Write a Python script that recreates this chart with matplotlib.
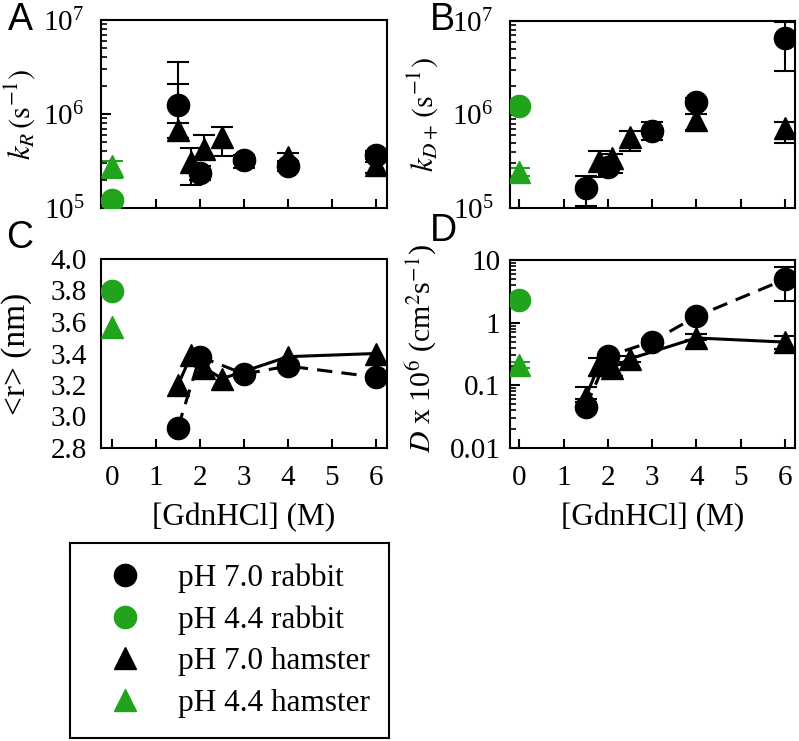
import numpy as np
import matplotlib
matplotlib.use('Agg')
import matplotlib.pyplot as plt
from matplotlib.lines import Line2D
from matplotlib.ticker import LogLocator, LogFormatterMathtext, NullFormatter, FixedLocator, FixedFormatter

plt.rcParams['font.family'] = ['Liberation Serif', 'DejaVu Serif']
plt.rcParams['mathtext.fontset'] = 'stix'

GREEN = '#22a31c'

# x positions ([GdnHCl], M)
rab7_x = [1.5, 2, 3, 4, 6]
ham7_x = [1.5, 1.8, 2.1, 2.5, 4, 6]
ham7_x_B = [1.8, 2.1, 2.5, 4, 6]
low_x = [0]

# A: k_R (s^-1)
rab7_kR = [1.25e6, 2.35e5, 3.24e5, 2.77e5, 3.66e5]
rab7_kR_lo = [8.0e5, 2.0e5, 2.66e5, 2.5e5, 3.3e5]
rab7_kR_hi = [3.6e6, 2.8e5, 3.66e5, 3.0e5, 4.0e5]
ham7_kR = [6.8e5, 3.1e5, 4.25e5, 5.7e5, 3.5e5, 2.87e5]
ham7_kR_lo = [5.5e5, 1.76e5, 3.5e5, 3.6e5, 3.2e5, 2.36e5]
ham7_kR_hi = [2.1e6, 4.35e5, 6.0e5, 7.2e5, 3.85e5, 3.1e5]
rab44_kR = [1.22e5]
ham44_kR = [2.8e5]
ham44_kR_lo = [2.08e5]
ham44_kR_hi = [3.16e5]

# B: k_D+ (s^-1)
rab7_kD = [1.64e5, 2.77e5, 6.65e5, 1.37e6, 6.6e6]
rab7_kD_lo = [1.05e5, 2.5e5, 5.33e5, 1.25e6, 2.95e6]
rab7_kD_hi = [2.2e5, 3.0e5, 8.3e5, 1.5e6, 9.8e6]
ham7_kD = [3.2e5, 3.43e5, 5.74e5, 8.7e5, 7.2e5]
ham7_kD_lo = [2.16e5, 2.37e5, 4.07e5, 6.8e5, 4.95e5]
ham7_kD_hi = [4.1e5, 3.8e5, 6.65e5, 1.01e6, 8.4e5]
rab44_kD = [1.23e6]
ham44_kD = [2.43e5]
ham44_kD_lo = [2.2e5]
ham44_kD_hi = [2.68e5]

# C: <r> (nm)
rab7_r = [2.93, 3.38, 3.27, 3.32, 3.25]
ham7_r = [3.20, 3.39, 3.31, 3.24, 3.38, 3.40]
rab44_r = [3.80]
ham44_r = [3.57]

# D: D x 10^6 (cm^2 s^-1)
rab7_D = [0.045, 0.29, 0.50, 1.26, 4.9]
rab7_D_lo = [0.040, 0.26, 0.46, 1.15, 2.25]
rab7_D_hi = [0.060, 0.32, 0.55, 1.40, 7.7]
ham7_D = [0.065, 0.21, 0.19, 0.265, 0.57, 0.49]
ham7_D_lo = [0.055, 0.14, 0.14, 0.24, 0.52, 0.38]
ham7_D_hi = [0.094, 0.27, 0.21, 0.29, 0.65, 0.62]
rab44_D = [2.28]
ham44_D = [0.21]
ham44_D_lo = [0.19]
ham44_D_hi = [0.24]

labels = ['pH 7.0 rabbit', 'pH 4.4 rabbit', 'pH 7.0 hamster', 'pH 4.4 hamster']

W, H = 799, 741
fig = plt.figure(figsize=(W / 100, H / 100), dpi=100)


def box(l, t, r, b):
    return [l / W, 1 - b / H, (r - l) / W, (b - t) / H]


axA = fig.add_axes(box(101, 20, 387, 208))
axB = fig.add_axes(box(510, 21, 795, 208))
axC = fig.add_axes(box(101, 259, 387, 448))
axD = fig.add_axes(box(510, 260, 795, 448))


def series(ax, x, y, lo=None, hi=None, marker='o', color='k', ls='none'):
    if lo is not None:
        y_ = np.asarray(y)
        err = [y_ - np.asarray(lo), np.asarray(hi) - y_]
        ax.errorbar(x, y, yerr=err, fmt='none', ecolor=color, elinewidth=1.5,
                    capsize=8, capthick=1.5, zorder=2)
    line, = ax.plot(x, y, marker=marker, color=color, ms=16, ls=ls, lw=2.2, zorder=3)
    if ls == '--':
        line.set_dashes((5, 3))


# A
series(axA, rab7_x, rab7_kR, rab7_kR_lo, rab7_kR_hi, 'o', 'k')
series(axA, ham7_x, ham7_kR, ham7_kR_lo, ham7_kR_hi, '^', 'k')
series(axA, low_x, rab44_kR, marker='o', color=GREEN)
series(axA, low_x, ham44_kR, ham44_kR_lo, ham44_kR_hi, '^', GREEN)

# B
series(axB, rab7_x, rab7_kD, rab7_kD_lo, rab7_kD_hi, 'o', 'k')
series(axB, ham7_x_B, ham7_kD, ham7_kD_lo, ham7_kD_hi, '^', 'k')
series(axB, low_x, rab44_kD, marker='o', color=GREEN)
series(axB, low_x, ham44_kD, ham44_kD_lo, ham44_kD_hi, '^', GREEN)

# C
series(axC, rab7_x, rab7_r, marker='o', color='k', ls='--')
series(axC, ham7_x, ham7_r, marker='^', color='k', ls='-')
series(axC, low_x, rab44_r, marker='o', color=GREEN)
series(axC, low_x, ham44_r, marker='^', color=GREEN)

# D
series(axD, rab7_x, rab7_D, rab7_D_lo, rab7_D_hi, 'o', 'k', ls='--')
series(axD, ham7_x, ham7_D, ham7_D_lo, ham7_D_hi, '^', 'k', ls='-')
series(axD, low_x, rab44_D, marker='o', color=GREEN)
series(axD, low_x, ham44_D, ham44_D_lo, ham44_D_hi, '^', GREEN)

for ax in (axA, axB, axC, axD):
    for s in ax.spines.values():
        s.set_linewidth(1.5)
    ax.xaxis.set_major_locator(FixedLocator(range(7)))
    ax.tick_params(axis='x', which='both', direction='in', length=6.5, width=1.5,
                   top=False, labelsize=21, pad=12)
    ax.tick_params(axis='y', which='major', direction='in', length=7, width=1.5,
                   right=False, labelsize=21)
    ax.tick_params(axis='y', which='minor', direction='in', length=4.5, width=1.2,
                   right=False)

axA.set_xlim(-0.25, 6.25)
axC.set_xlim(-0.25, 6.25)
axB.set_xlim(-0.21, 6.23)
axD.set_xlim(-0.21, 6.23)
axA.tick_params(axis='x', labelbottom=False)
axB.tick_params(axis='x', labelbottom=False)

for ax in (axA, axB):
    ax.set_yscale('log')
    ax.set_ylim(1e5, 1e7)
    ax.yaxis.set_major_locator(FixedLocator([1e5, 1e6, 1e7]))
    ax.yaxis.set_major_formatter(LogFormatterMathtext())
    ax.yaxis.set_minor_locator(LogLocator(base=10, subs=np.arange(2, 10)))
    ax.yaxis.set_minor_formatter(NullFormatter())
    ax.tick_params(axis='y', which='major', pad=12)

axC.set_ylim(2.8, 4.0)
axC.yaxis.set_major_locator(FixedLocator(np.arange(2.8, 4.01, 0.2)))
axC.yaxis.set_major_formatter(FixedFormatter(['2.8', '3.0', '3.2', '3.4', '3.6', '3.8', '4.0']))
axC.tick_params(axis='y', which='major', length=0, pad=10)

axD.set_yscale('log')
axD.set_ylim(0.01, 10)
axD.yaxis.set_major_locator(FixedLocator([0.01, 0.1, 1, 10]))
axD.yaxis.set_major_formatter(FixedFormatter(['0.01', '0.1', '1', '10']))
axD.yaxis.set_minor_locator(LogLocator(base=10, subs=np.arange(2, 10)))
axD.yaxis.set_minor_formatter(NullFormatter())
axD.tick_params(axis='y', which='major', pad=7)

axA.set_ylabel(r'$k_R\,(\mathrm{s}^{-1})$', fontsize=22)
axB.set_ylabel(r'$k_{D+}\,(\mathrm{s}^{-1})$', fontsize=22)
axC.set_ylabel('<r> (nm)', fontsize=24)
axD.set_ylabel(r'$D$ x 10$^{6}$ (cm$^{2}$s$^{-1}$)', fontsize=21.5)
axA.yaxis.set_label_coords(-0.225, 0.5)
axB.yaxis.set_label_coords(-0.245, 0.5)
axC.yaxis.set_label_coords(-0.24, 0.5)
axD.yaxis.set_label_coords(-0.25, 0.53)

axC.set_xlabel('[GdnHCl] (M)', fontsize=22.5, labelpad=9)
axD.set_xlabel('[GdnHCl] (M)', fontsize=22.5, labelpad=9)

for letter, (px, py) in zip('ABCD', [(20, 20), (442, 20), (20, 238), (443, 231)]):
    fig.text(px / W, 1 - py / H, letter, fontsize=27, family='Liberation Sans',
             ha='center', va='center')

# legend box
axL = fig.add_axes(box(70, 543, 389, 738))
axL.set_xticks([])
axL.set_yticks([])
for s in axL.spines.values():
    s.set_linewidth(1.5)
handles = [
    Line2D([], [], marker='o', color='k', ls='none', ms=16),
    Line2D([], [], marker='o', color=GREEN, ls='none', ms=16),
    Line2D([], [], marker='^', color='k', ls='none', ms=16),
    Line2D([], [], marker='^', color=GREEN, ls='none', ms=16),
]
axL.legend(handles, labels, loc='center left', bbox_to_anchor=(0.1235, 0.5),
           frameon=False, fontsize=22.5, handlelength=1.0, handletextpad=1.2,
           labelspacing=0.4, borderpad=0, borderaxespad=0, numpoints=1)

fig.savefig('out.png', dpi=100)
